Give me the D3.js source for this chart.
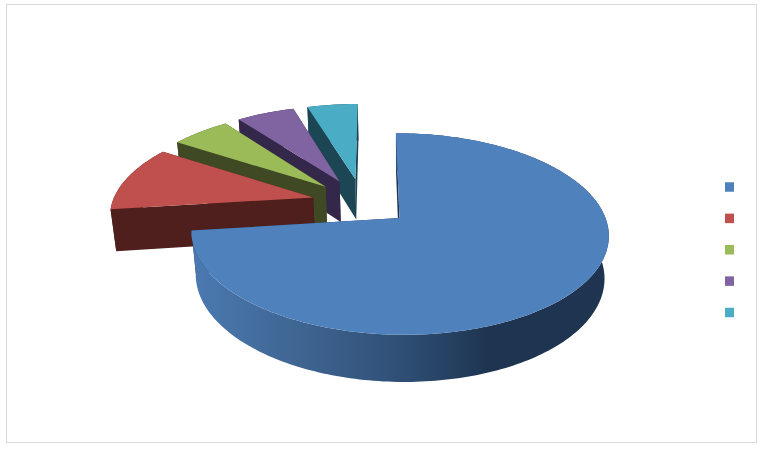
<!DOCTYPE html>
<html>
<head>
<meta charset="utf-8">
<script src="https://d3js.org/d3.v7.min.js"></script>
<style>
html, body { margin: 0; padding: 0; background: #fff; }
svg { display: block; }
</style>
</head>
<body>
<div id="chart"></div>
<script>
// legend text is blank in the source, these only key the scales
var categories = ['a', 'b', 'c', 'd', 'e'];
var values = [73, 11.1, 5.6, 5.5, 4.8];

var top_colors = ['#4f81bd', '#c0504d', '#9bbb59', '#8064a2', '#4bacc6'];
var side_colors = ['#1e3451', '#4f1f1d', '#3f4a24', '#33284a', '#1c4653'];
var explode = [0.24, 0.255, 0.26, 0.265, 0.265];

var chart_width = 765;
var chart_height = 451;

// camera
var apex_x = 399.5;
var apex_y = 218;
var radius_px = 206;
var sin_e = 0.477;
var cos_e = 0.879;
var persp = 0.18;
var skew = 0.02;
var depth = 0.238;

var svg = d3.select('#chart')
    .append('svg')
    .attr('width', chart_width)
    .attr('height', chart_height);

svg.append('rect')
    .attr('x', 6.5)
    .attr('y', 4.5)
    .attr('width', 750)
    .attr('height', 438)
    .attr('fill', '#fff')
    .attr('stroke', '#d9d9d9');

var color_top = d3.scaleOrdinal().domain(categories).range(top_colors);
var color_side = d3.scaleOrdinal().domain(categories).range(side_colors);

var pie = d3.pie().sort(null).value(function (d) { return d.value; });
var slices = pie(categories.map(function (c, i) {
    return { name: c, value: values[i], explode: explode[i] };
}));

function mid(s) { return (s.startAngle + s.endAngle) / 2; }

// everything is measured from the tip of the first slice
var first = slices[0];
slices.forEach(function (s) {
    s.off_u = s.data.explode * Math.sin(mid(s)) - first.data.explode * Math.sin(mid(first));
    s.off_v = s.data.explode * Math.cos(mid(s)) - first.data.explode * Math.cos(mid(first));
});

function project(u, v, z) {
    var s = 1 / (1 + persp * (v * cos_e - z * sin_e));
    return [
        apex_x + radius_px * s * (u - skew * v),
        apex_y - radius_px * s * (v * sin_e + z * cos_e)
    ];
}

function rim(s, a, z) {
    return project(s.off_u + Math.sin(a), s.off_v + Math.cos(a), z);
}

function tip(s, z) {
    return project(s.off_u, s.off_v, z);
}

function arc_points(s, z) {
    var n = Math.ceil((s.endAngle - s.startAngle) / 0.02);
    return d3.range(n + 1).map(function (i) {
        return rim(s, s.startAngle + (s.endAngle - s.startAngle) * i / n, z);
    });
}

var line = d3.line().curve(d3.curveLinearClosed);

// shading of the first slice's outer wall
var grad = svg.append('defs').append('linearGradient')
    .attr('id', 'wall-blue')
    .attr('gradientUnits', 'userSpaceOnUse')
    .attr('x1', 197).attr('x2', 490)
    .attr('y1', 0).attr('y2', 0);
grad.append('stop').attr('offset', 0).attr('stop-color', '#4a79b0');
grad.append('stop').attr('offset', 0.35).attr('stop-color', '#3f6592');
grad.append('stop').attr('offset', 0.7).attr('stop-color', '#2f4f75');
grad.append('stop').attr('offset', 1).attr('stop-color', '#1e3451');

// back slices first
var groups = svg.append('g')
    .selectAll('g')
    .data(slices.slice().reverse())
    .enter()
    .append('g');

groups.append('path')
    .attr('d', function (s) {
        return line([tip(s, 0), rim(s, s.startAngle, 0), rim(s, s.startAngle, -depth), tip(s, -depth)]);
    })
    .attr('fill', function (s) { return color_side(s.data.name); });

groups.append('path')
    .attr('d', function (s) {
        return line([tip(s, 0), rim(s, s.endAngle, 0), rim(s, s.endAngle, -depth), tip(s, -depth)]);
    })
    .attr('fill', function (s) { return color_side(s.data.name); });

groups.append('path')
    .attr('d', function (s) {
        return line(arc_points(s, 0).concat(arc_points(s, -depth).reverse()));
    })
    .attr('fill', function (s) {
        return s.index === 0 ? 'url(#wall-blue)' : color_side(s.data.name);
    });

groups.append('path')
    .attr('d', function (s) {
        return line([tip(s, 0)].concat(arc_points(s, 0)));
    })
    .attr('fill', function (s) { return color_top(s.data.name); });

// legend keys
var legend_y = d3.scalePoint().domain(categories).range([187, 312.5]);

svg.append('g')
    .selectAll('rect')
    .data(categories)
    .enter()
    .append('rect')
    .attr('x', 725)
    .attr('y', function (d) { return legend_y(d) - 4.75; })
    .attr('width', 9)
    .attr('height', 9.5)
    .attr('fill', function (d) { return color_top(d); });
</script>
</body>
</html>
